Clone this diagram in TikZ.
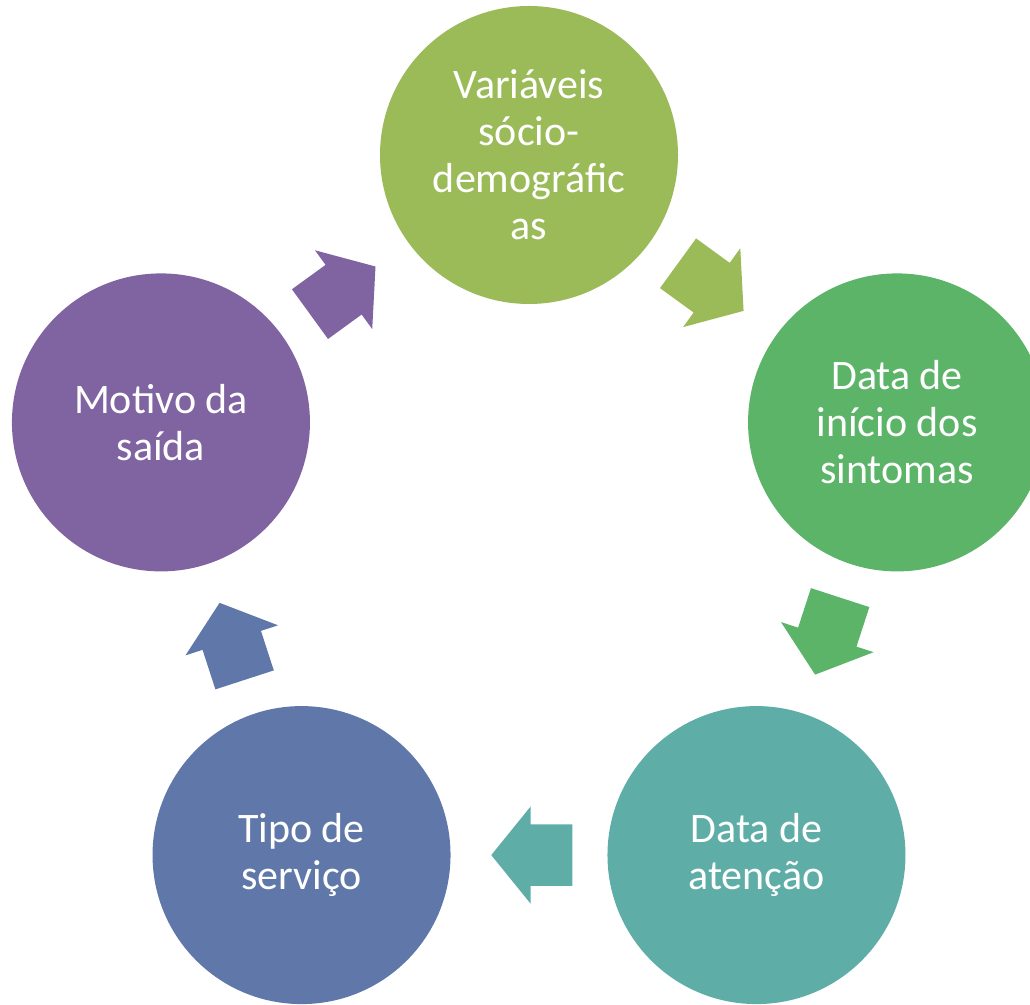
\documentclass[tikz,border=0pt]{standalone}
\usepackage{fontspec}
\setmainfont{Carlito}
\usetikzlibrary{shapes.arrows,calc}
\definecolor{cyclime}{HTML}{9BBB59}
\definecolor{cycgreen}{HTML}{5CB469}
\definecolor{cycteal}{HTML}{5EAEA7}
\definecolor{cycblue}{HTML}{6078A9}
\definecolor{cycpurple}{HTML}{8064A2}
\tikzset{
  phase/.style={circle,minimum size=298pt,inner sep=0pt,align=center,text=white,
                font=\fontsize{42pt}{47pt}\selectfont},
  turn/.style={single arrow,minimum height=81pt,inner xsep=0pt,inner ysep=30.5pt,
               single arrow head extend=18pt,single arrow tip angle=102,anchor=tip},
}

\begin{document}
\begin{tikzpicture}
  \useasboundingbox (0pt,0pt) rectangle (1030pt,1004pt);
  \coordinate (hub) at (529pt,462pt);
  \node[phase,fill=cyclime] (vars) at ($(hub)+(90:387pt)$) {Variáveis\\sócio-\\demográfic\\as};
  \node[phase,fill=cycgreen] (ini) at ($(hub)+(18:387pt)$) {Data de\\início dos\\sintomas};
  \node[phase,fill=cycteal] (aten) at ($(hub)+(-54:387pt)$) {Data de\\atenção};
  \node[phase,fill=cycblue] (serv) at ($(hub)+(-126:387pt)$) {Tipo de\\serviço};
  \node[phase,fill=cycpurple] (saida) at ($(hub)+(162:387pt)$) {Motivo da\\saída};
  % arrows between the phases, tip just past the middle
  \node[turn,fill=cyclime,rotate=-36] (a1) at ($(vars)!0.5!(ini)!38pt!(ini)$) {};
  \node[turn,fill=cycgreen,rotate=-108] (a2) at ($(ini)!0.5!(aten)!38pt!(aten)$) {};
  \node[turn,fill=cycteal,rotate=180] (a3) at ($(aten)!0.5!(serv)!38pt!(serv)$) {};
  \node[turn,fill=cycblue,rotate=108] (a4) at ($(serv)!0.5!(saida)!38pt!(saida)$) {};
  \node[turn,fill=cycpurple,rotate=36] (a5) at ($(saida)!0.5!(vars)!38pt!(vars)$) {};
\end{tikzpicture}
\end{document}
